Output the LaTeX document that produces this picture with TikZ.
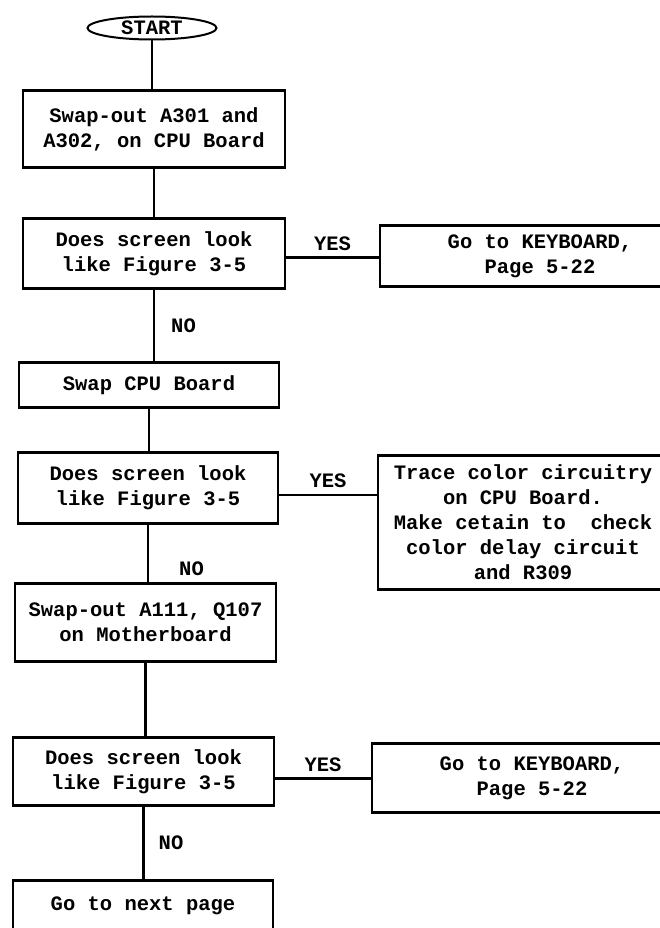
\documentclass[tikz,border=0pt]{standalone}
\usepackage{fontspec}
\setmainfont{Liberation Mono}
\usetikzlibrary{shapes.geometric, positioning}

\begin{document}
\begin{tikzpicture}[
  x=1pt, y=-1pt,
  font=\fontsize{20.5}{25}\selectfont\bfseries,
  term/.style={ellipse, draw, line width=2pt, inner sep=0pt, outer sep=0pt,
               minimum width=129pt, minimum height=23pt},
  box/.style={rectangle, draw, line width=2.4pt, align=center, inner sep=2pt, outer sep=0pt},
  link/.style={line width=2.4pt},
  tag/.style={inner sep=2pt}]
  \path[use as bounding box, clip] (0,0) rectangle (660,928);
  \node[term] (start) at (152,28) {START};
  \node[box, minimum width=262pt, minimum height=77pt, below=51pt of start, xshift=2pt] (swapic) {Swap-out A301 and\\A302, on CPU Board};
  \node[box, minimum width=262pt, minimum height=70pt, below=51pt of swapic] (query1) {Does screen look\\like Figure 3-5};
  \node[box, minimum width=320pt, minimum height=61pt, right=95pt of query1.north east, anchor=north west, yshift=-7pt] (kbd1) {Go to KEYBOARD,\\Page 5-22};
  \node[box, minimum width=260pt, minimum height=45pt, below=74pt of query1, xshift=-5pt] (swapcpu) {Swap CPU Board};
  \node[box, minimum width=260pt, minimum height=71pt, below=45pt of swapcpu, xshift=-1pt] (query2) {Does screen look\\like Figure 3-5};
  \node[box, minimum width=290pt, minimum height=134pt, right=100pt of query2.north east, anchor=north west, yshift=-3pt] (trace) {Trace color circuitry\\on CPU Board.\\Make cetain to\ \ check\\color delay circuit\\and R309};
  \node[box, minimum width=261pt, minimum height=78pt, below=60pt of query2, xshift=-2.5pt] (swapmb) {Swap-out A111, Q107\\on Motherboard};
  \node[box, minimum width=261pt, minimum height=68pt, below=76pt of swapmb, xshift=-2pt] (query3) {Does screen look\\like Figure 3-5};
  \node[box, minimum width=320pt, minimum height=69pt, right=98pt of query3.north east, anchor=north west, yshift=-6pt] (kbd2) {Go to KEYBOARD,\\Page 5-22};
  \node[box, minimum width=260pt, minimum height=50pt, below=75pt of query3, xshift=-0.5pt] (nextpg) {Go to next page};
  % main column
  \draw[link] (start) -- (start |- swapic.north);
  \draw[link] (swapic) -- (swapic |- query1.north);
  \draw[link] (query1) -- (query1 |- swapcpu.north) node[tag, midway, right=14pt] {NO};
  \draw[link] (swapcpu) -- (swapcpu |- query2.north);
  \draw[link] (query2) -- (query2 |- swapmb.north) node[tag, pos=0.75, right=28pt] {NO};
  \draw[link] (swapmb) -- (swapmb |- query3.north);
  \draw[link] (query3) -- (query3 |- nextpg.north) node[tag, midway, right=12pt] {NO};
  % yes branches
  \draw[link] ([yshift=-4pt]query1.east) -- ([yshift=-4pt]query1.east -| kbd1.west) node[tag, midway, above=4pt] {YES};
  \draw[link] ([yshift=-7pt]query2.east) -- ([yshift=-7pt]query2.east -| trace.west) node[tag, midway, above=4pt] {YES};
  \draw[link] ([yshift=-7pt]query3.east) -- ([yshift=-7pt]query3.east -| kbd2.west) node[tag, midway, above=4pt] {YES};
\end{tikzpicture}
\end{document}
